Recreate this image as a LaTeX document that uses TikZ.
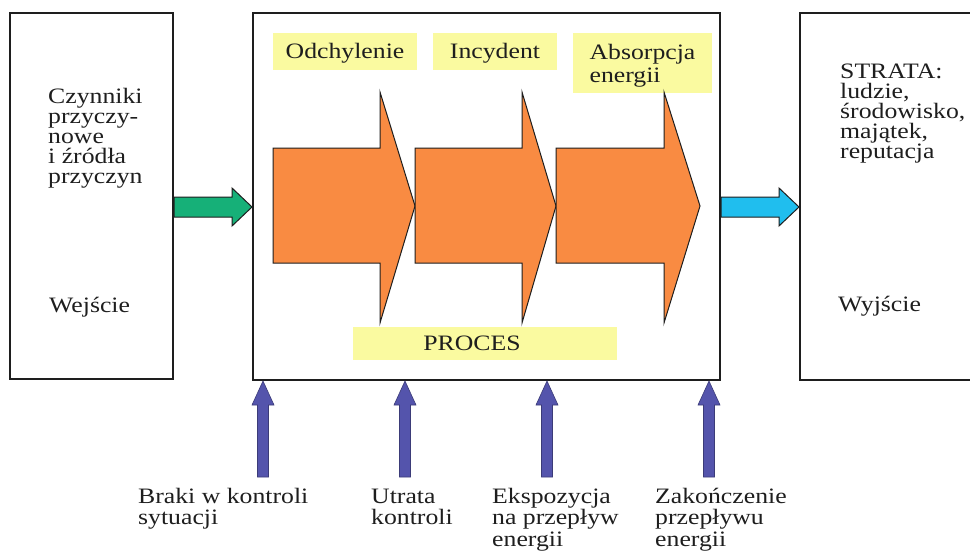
\documentclass[tikz,border=0pt]{standalone}
\usepackage{fontspec}
\setmainfont{Liberation Serif}
\newfontfamily\dfont[FakeStretch=1.17]{Liberation Serif}
\usetikzlibrary{calc}
\definecolor{ora}{RGB}{249,139,66}
\definecolor{yel}{RGB}{250,250,160}
\definecolor{grn}{RGB}{22,176,120}
\definecolor{cya}{RGB}{32,190,238}
\definecolor{blu}{RGB}{84,84,172}
\definecolor{ink}{RGB}{30,30,30}
\newcommand\fatright[3]{%
  \draw[#1] ($(#2)+(0,-10)$) -- ($(#3)+(-20,-10)$) -- ($(#3)+(-20,-19)$) -- (#3) -- ($(#3)+(-20,19)$) -- ($(#3)+(-20,10)$) -- ($(#2)+(0,10)$) -- cycle;}
\newcommand\fatup[3]{%
  \draw[#1] ($(#2)+(-5.5,0)$) -- ($(#3)+(-5.5,24)$) -- ($(#3)+(-11,24)$) -- (#3) -- ($(#3)+(11,24)$) -- ($(#3)+(5.5,24)$) -- ($(#2)+(5.5,0)$) -- cycle;}
\newcommand\blockarrow[3]{%
  \draw[orangearrow] (#1,148) -- (#2,148) -- (#2,92) -- (#3,206) -- (#2,323) -- (#2,263) -- (#1,263) -- cycle;}
\begin{document}
\begin{tikzpicture}[x=1pt,y=-1pt,
  box/.style={draw=ink, line width=2pt, fill=white, inner sep=0pt},
  txt/.style={font=\dfont\fontsize{22}{20}\selectfont, text=ink, align=left, inner sep=0pt},
  tag/.style={fill=yel, font=\dfont\fontsize{22}{23}\selectfont, text=ink, align=left, inner sep=0pt},
  orangearrow/.style={fill=ora, draw=ink, line width=1pt, line join=miter},
  fatgreen/.style={fill=grn, draw=ink, line width=1pt, line join=miter},
  fatcyan/.style={fill=cya, draw=ink, line width=1pt, line join=miter},
  fatblue/.style={fill=blu, draw=blu!70!black, line width=0.6pt, line join=miter}]
\useasboundingbox (0,0) rectangle (970,551);
\clip (0,0) rectangle (970,551);
\fill[white] (0,0) rectangle (970,551);
% boxes
\node[box, minimum width=163pt, minimum height=366pt] (L) at (91.5,196) {};
\node[box, minimum width=467pt, minimum height=367pt] (M) at (486.5,196.5) {};
\node[box, minimum width=200pt, minimum height=367pt] (R) at (900,196.5) {};
% texts in side boxes (base = baseline of the last line)
\node[txt, anchor=base west] (Lt) at (48,183) {Czynniki\\przyczy-\\nowe\\i źródła\\przyczyn};
\node[txt, anchor=base west] (Lw) at (49,312) {Wejście};
\node[txt, anchor=base west] (Rt) at (840,158) {STRATA:\\ludzie,\\środowisko,\\majątek,\\reputacja};
\node[txt, anchor=base west] (Rw) at (838,311) {Wyjście};
% yellow tags
\node[tag, minimum width=144pt, minimum height=37pt, text height=20pt, text depth=5pt] (t1) at (345,51.5) {Odchylenie};
\node[tag, minimum width=124pt, minimum height=37pt, text height=20pt, text depth=5pt] (t2) at (495,51.5) {Incydent};
\node[tag, minimum width=139pt, minimum height=60pt, text height=42pt, text depth=4pt] (t3) at (642.5,63) {Absorpcja\\energii};
\node[tag, minimum width=264pt, minimum height=33pt, text height=18pt, text depth=5pt] (t4) at (485,343.5) {PROCES\hspace*{26pt}};
% orange process arrows
\blockarrow{273}{380}{415}
\blockarrow{415}{522}{556}
\blockarrow{556}{664}{700}
% input / output arrows
\coordinate (g0) at (L.east |- 0,207);
\coordinate (g1) at (M.west |- 0,207);
\fatright{fatgreen}{g0}{g1}
\coordinate (c0) at (M.east |- 0,207);
\coordinate (c1) at (R.west |- 0,207);
\fatright{fatcyan}{c0}{c1}
% control arrows
\foreach \i/\x in {1/263,2/405,3/547,4/709}{
  \coordinate (b\i s) at (\x,477);
  \coordinate (b\i t) at (M.south -| \x,0);
  \fatup{fatblue}{b\i s}{b\i t}
}
% bottom labels (base = baseline of the last line)
\begin{scope}[every node/.style={txt, font=\dfont\fontsize{22}{21.5}\selectfont, anchor=base west}]
\node (l1) at (138,524.5) {Braki w kontroli\\sytuacji};
\node (l2) at (371,524.5) {Utrata\\kontroli};
\node (l3) at (492,546) {Ekspozycja\\na przepływ\\energii};
\node (l4) at (655,546) {Zakończenie\\przepływu\\energii};
\end{scope}
\end{tikzpicture}
\end{document}
